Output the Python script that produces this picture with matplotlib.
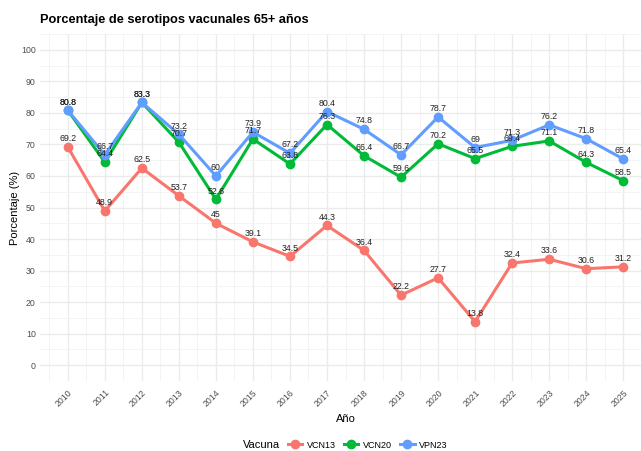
import matplotlib
matplotlib.use("Agg")
import matplotlib.pyplot as plt
from matplotlib.lines import Line2D
from matplotlib.ticker import MultipleLocator
from matplotlib.offsetbox import HPacker

plt.rcParams['font.family'] = ['Liberation Sans', 'DejaVu Sans']

years = list(range(2010, 2026))
vcn13 = [69.2, 48.9, 62.5, 53.7, 45, 39.1, 34.5, 44.3, 36.4, 22.2, 27.7, 13.8, 32.4, 33.6, 30.6, 31.2]
vcn20 = [80.8, 64.4, 83.3, 70.7, 52.6, 71.7, 63.8, 76.3, 66.4, 59.6, 70.2, 65.5, 69.4, 71.1, 64.3, 58.5]
vpn23 = [80.8, 66.7, 83.3, 73.2, 60, 73.9, 67.2, 80.4, 74.8, 66.7, 78.7, 69, 71.3, 76.2, 71.8, 65.4]

series = [("VCN13", vcn13, "#F8766D"), ("VCN20", vcn20, "#00BA38"), ("VPN23", vpn23, "#619CFF")]

W, H = 641, 451
fig = plt.figure(figsize=(W / 100, H / 100), dpi=100)
left, right, top, bottom = 40, 651, 34, 381
ax = fig.add_axes([left / W, 1 - bottom / H, (right - left) / W, (bottom - top) / H])

for name, vals, col in series:
    ax.plot(years, vals, color=col, lw=2.2, marker='o', ms=6, zorder=3, solid_capstyle='round')
for name, vals, col in series:
    for x, v in zip(years, vals):
        ax.text(x, v + 1.2, f"{v:g}", ha='center', va='bottom', fontsize=6.3, color='#222222', zorder=5)

ax.set_xlim(2009.25, 2025.75)
ax.set_ylim(-5, 105)
ax.set_xticks(years)
ax.set_xticklabels([str(y) for y in years], rotation=45, ha='right', va='top', rotation_mode='anchor')
ax.xaxis.set_minor_locator(MultipleLocator(0.5))
ax.set_yticks(range(0, 101, 10))
ax.yaxis.set_minor_locator(MultipleLocator(5))
ax.grid(which='major', color='#EBEBEB', lw=1.0, zorder=0)
ax.grid(which='minor', color='#F3F3F3', lw=0.6, zorder=0)
ax.set_axisbelow(True)
for s in ax.spines.values():
    s.set_visible(False)
ax.tick_params(which='both', length=0, colors='#4D4D4D', labelsize=6.3, pad=3)
ax.tick_params(axis='x', pad=5)

ax.set_xlabel("Año", fontsize=8, color='black', labelpad=4)
ax.set_ylabel("Porcentaje (%)", fontsize=8, color='black', labelpad=1)

fig.text(40 / W, 1 - 20 / H, "Porcentaje de serotipos vacunales 65+ años", fontsize=9.2,
         fontweight='bold', ha='left', va='center')

handles = [Line2D([0], [0], color=c, lw=2.2, marker='o', ms=6) for _, _, c in series]
leg = fig.legend(handles, [n for n, _, _ in series], loc='center', bbox_to_anchor=(345 / W, 1 - 445 / H),
                 ncol=3, frameon=False, fontsize=6.5, title="Vacuna", title_fontsize=8,
                 handlelength=1.6, handletextpad=0.5, columnspacing=0.9)
title_box = leg._legend_title_box
handle_box = leg._legend_handle_box
leg._legend_box._children = [HPacker(children=[title_box, handle_box], pad=0, sep=6, align='center')]

fig.savefig("out.png", dpi=100)
